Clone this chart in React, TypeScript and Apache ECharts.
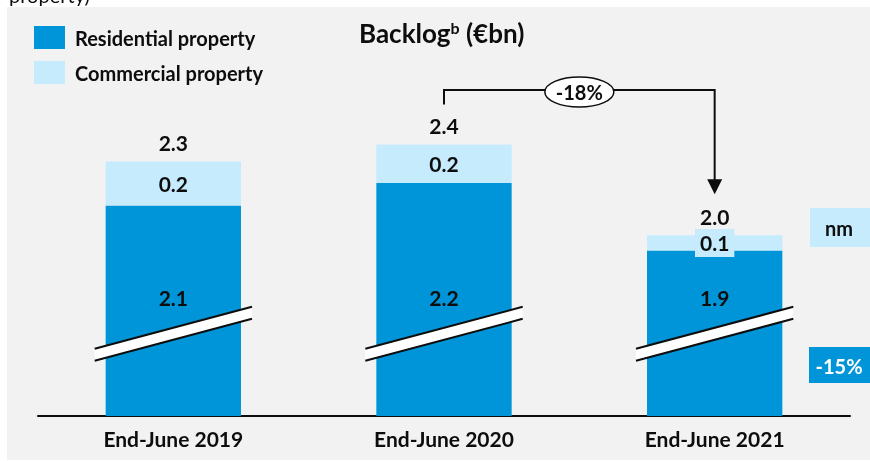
import React, { useEffect, useRef } from "react";
import * as echarts from "echarts";

const categories = ["End-June 2019", "End-June 2020", "End-June 2021"];
const residential = [2.1, 2.2, 1.9];
const commercial = [0.195, 0.17, 0.067];
const residentialLabels = ["2.1", "2.2", "1.9"];
const commercialLabels = ["0.2", "0.2", "0.1"];
const totalLabels = ["2.3", "2.4", "2.0"];
const seriesNames = ["Residential property", "Commercial property"];
const changeLabel = "-18%";
const sideLabels = ["nm", "-15%"];
const residentialLabelLevel = 1.69;
const breakLevel = 1.53;
const axisMin = 1.165;
const axisMax = 2.75;

const FONT = "Lato, 'Noto Sans', sans-serif";
const DARK = "#0095d8";
const LIGHT = "#c5ebfc";
const BG = "#f2f2f2";
const INK = "#0d0d0d";

export default function App() {
  const ref = useRef<HTMLDivElement>(null);
  useEffect(() => {
    if (!ref.current) return;
    const chart = echarts.init(ref.current, undefined, { renderer: "svg" });
    const totals = residential.map((r, i) => r + commercial[i]);
    const labelFont = { fontFamily: FONT, fontWeight: "bold" as const, fontSize: 21, color: INK };
    chart.setOption({
      animation: false,
      grid: { left: 38, right: 20, top: 59, bottom: 45 },
      legend: {
        data: seriesNames,
        orient: "vertical",
        left: 29,
        top: 21,
        itemWidth: 31,
        itemHeight: 23,
        itemGap: 12,
        icon: "rect",
        selectedMode: false,
        textStyle: { fontFamily: FONT, fontWeight: "bold", fontSize: 20, color: INK, padding: [0, 0, 0, 5] },
      },
      xAxis: {
        type: "category",
        data: categories,
        axisLine: { lineStyle: { color: INK, width: 2 } },
        axisTick: { show: false },
        axisLabel: { ...labelFont, fontSize: 21, margin: 12 },
      },
      yAxis: { type: "value", min: axisMin, max: axisMax, show: false, splitLine: { show: false } },
      series: [
        {
          name: seriesNames[0],
          type: "bar",
          stack: "a",
          barWidth: "50%",
          data: residential,
          itemStyle: { color: DARK },
          z: 2,
        },
        {
          name: seriesNames[1],
          type: "bar",
          stack: "a",
          data: commercial.map((v, i) =>
            i === 2
              ? { value: v, label: { backgroundColor: LIGHT, padding: [4, 5, 3, 5] } }
              : { value: v }
          ),
          itemStyle: { color: LIGHT },
          label: {
            show: true,
            position: "inside",
            ...labelFont,
            formatter: (p: any) => commercialLabels[p.dataIndex],
          },
          z: 2,
        },
        {
          type: "scatter",
          data: categories.map((_, i) => [i, residentialLabelLevel]),
          symbolSize: 1,
          itemStyle: { color: "transparent", opacity: 1 },
          label: { show: true, position: "inside", ...labelFont, formatter: (p: any) => residentialLabels[p.dataIndex] },
          z: 5,
        },
        {
          type: "scatter",
          data: totals.map((t, i) => [i, t]),
          symbolSize: 1,
          itemStyle: { color: "transparent", opacity: 1 },
          label: { show: true, position: "top", distance: 8, ...labelFont, formatter: (p: any) => totalLabels[p.dataIndex] },
          z: 5,
        },
      ],
    });

    const px = (i: number, v: number) => chart.convertToPixel({ gridIndex: 0 }, [i, v]) as number[];
    const band = px(1, axisMin)[0] - px(0, axisMin)[0];
    const dx = band * 0.25 + 11;
    const graphics: any[] = [
      { type: "rect", shape: { x: 7, y: 7, width: 870, height: 453 }, style: { fill: BG }, z: -100 },
      {
        type: "text",
        x: 9,
        y: -5,
        style: { text: "property)", font: "20px " + FONT, fill: INK, verticalAlign: "middle" },
      },
      {
        type: "text",
        x: 359,
        y: 33,
        style: {
          text: "{m|Backlog}{s|b}{m| (€bn)}",
          verticalAlign: "middle",
          rich: {
            m: { fontFamily: FONT, fontWeight: "bold", fontSize: 26, fill: INK, lineHeight: 28 },
            s: { fontFamily: FONT, fontWeight: "bold", fontSize: 16, fill: INK, verticalAlign: "top", lineHeight: 16 },
          },
        },
      },
    ];
    categories.forEach((_, i) => {
      const [cx, cy] = px(i, breakLevel);
      graphics.push({
        type: "polygon",
        shape: { points: [[cx - dx, cy + 15], [cx + dx, cy - 27], [cx + dx, cy - 15], [cx - dx, cy + 27]] },
        style: { fill: "#ffffff" },
        z: 50,
      });
      graphics.push({ type: "line", shape: { x1: cx - dx, y1: cy + 15, x2: cx + dx, y2: cy - 27 }, style: { stroke: INK, lineWidth: 2 }, z: 51 });
      graphics.push({ type: "line", shape: { x1: cx - dx, y1: cy + 27, x2: cx + dx, y2: cy - 15 }, style: { stroke: INK, lineWidth: 2 }, z: 51 });
    });
    const [ax, aTop] = px(1, totals[1]);
    const [bx, bTop] = px(2, totals[2]);
    const lineY = 90;
    const tipY = bTop - 41;
    graphics.push({
      type: "polyline",
      shape: { points: [[ax, aTop - 40], [ax, lineY], [bx, lineY], [bx, tipY - 13]] },
      style: { stroke: INK, lineWidth: 2, fill: null },
      z: 60,
    });
    graphics.push({
      type: "polygon",
      shape: { points: [[bx - 7.5, tipY - 15], [bx + 7.5, tipY - 15], [bx, tipY]] },
      style: { fill: INK },
      z: 60,
    });
    const mx = (ax + bx) / 2;
    graphics.push({ type: "ellipse", shape: { cx: mx, cy: lineY + 2, rx: 34.5, ry: 15 }, style: { fill: "#ffffff", stroke: INK, lineWidth: 1.5 }, z: 61 });
    graphics.push({
      type: "text",
      x: mx,
      y: lineY + 2,
      style: { text: changeLabel, font: "bold 20px " + FONT, fill: INK, align: "center", verticalAlign: "middle" },
      z: 62,
    });
    graphics.push({ type: "rect", shape: { x: 810, y: 208, width: 60, height: 39 }, style: { fill: LIGHT }, z: 10 });
    graphics.push({
      type: "text",
      x: 839,
      y: 228,
      style: { text: sideLabels[0], font: "bold 20px " + FONT, fill: INK, align: "center", verticalAlign: "middle" },
      z: 11,
    });
    graphics.push({ type: "rect", shape: { x: 809, y: 347, width: 61, height: 36 }, style: { fill: DARK }, z: 10 });
    graphics.push({
      type: "text",
      x: 839,
      y: 366,
      style: { text: sideLabels[1], font: "bold 20px " + FONT, fill: "#ffffff", align: "center", verticalAlign: "middle" },
      z: 11,
    });
    chart.setOption({ graphic: graphics });
    return () => chart.dispose();
  }, []);
  return <div ref={ref} style={{ position: "fixed", left: 0, top: 0, width: 870, height: 461 }} />;
}
